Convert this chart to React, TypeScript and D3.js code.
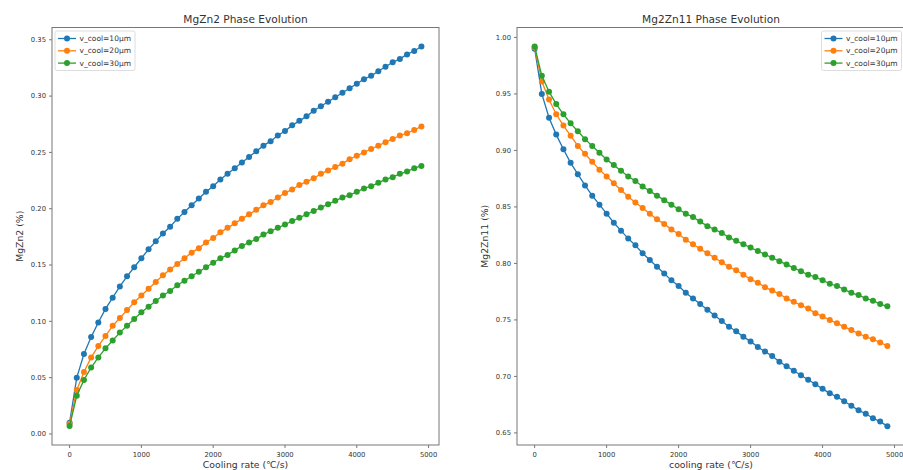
import * as d3 from "d3";

// cooling rate (°C/s), shared by every series
const coolingRates = d3.range(0, 5000, 100);

// MgZn2 fraction
const mgzn2_10 = [0.010, 0.050, 0.071, 0.086, 0.099, 0.111, 0.121, 0.131, 0.140, 0.148, 0.156, 0.164, 0.171, 0.178, 0.184, 0.191, 0.197, 0.203, 0.209, 0.215, 0.220, 0.226, 0.231, 0.236, 0.241, 0.246, 0.251, 0.256, 0.260, 0.265, 0.269, 0.274, 0.278, 0.282, 0.287, 0.291, 0.295, 0.299, 0.303, 0.307, 0.311, 0.315, 0.318, 0.322, 0.326, 0.330, 0.333, 0.337, 0.340, 0.344];
const mgzn2_20 = [0.009, 0.039, 0.055, 0.068, 0.078, 0.087, 0.096, 0.103, 0.110, 0.117, 0.123, 0.129, 0.135, 0.141, 0.146, 0.151, 0.156, 0.161, 0.165, 0.170, 0.174, 0.179, 0.183, 0.187, 0.191, 0.195, 0.199, 0.203, 0.206, 0.210, 0.214, 0.217, 0.221, 0.224, 0.227, 0.231, 0.234, 0.237, 0.240, 0.244, 0.247, 0.250, 0.253, 0.256, 0.259, 0.262, 0.265, 0.267, 0.270, 0.273];
const mgzn2_30 = [0.007, 0.034, 0.048, 0.059, 0.068, 0.076, 0.083, 0.090, 0.096, 0.102, 0.108, 0.113, 0.118, 0.123, 0.127, 0.132, 0.136, 0.140, 0.144, 0.148, 0.152, 0.156, 0.159, 0.163, 0.167, 0.170, 0.173, 0.177, 0.180, 0.183, 0.186, 0.189, 0.192, 0.195, 0.198, 0.201, 0.204, 0.207, 0.210, 0.212, 0.215, 0.218, 0.220, 0.223, 0.226, 0.228, 0.231, 0.233, 0.236, 0.238];

// Mg2Zn11 fraction
const mg2zn11_10 = [0.990, 0.950, 0.929, 0.914, 0.901, 0.889, 0.879, 0.869, 0.860, 0.852, 0.844, 0.836, 0.829, 0.822, 0.816, 0.809, 0.803, 0.797, 0.791, 0.785, 0.780, 0.774, 0.769, 0.764, 0.759, 0.754, 0.749, 0.744, 0.740, 0.735, 0.731, 0.726, 0.722, 0.718, 0.713, 0.709, 0.705, 0.701, 0.697, 0.693, 0.689, 0.685, 0.682, 0.678, 0.674, 0.670, 0.667, 0.663, 0.660, 0.656];
const mg2zn11_20 = [0.991, 0.961, 0.945, 0.932, 0.922, 0.913, 0.904, 0.897, 0.890, 0.883, 0.877, 0.871, 0.865, 0.859, 0.854, 0.849, 0.844, 0.839, 0.835, 0.830, 0.826, 0.821, 0.817, 0.813, 0.809, 0.805, 0.801, 0.797, 0.794, 0.790, 0.786, 0.783, 0.779, 0.776, 0.773, 0.769, 0.766, 0.763, 0.760, 0.756, 0.753, 0.750, 0.747, 0.744, 0.741, 0.738, 0.735, 0.733, 0.730, 0.727];
const mg2zn11_30 = [0.992, 0.966, 0.952, 0.941, 0.932, 0.924, 0.917, 0.910, 0.904, 0.898, 0.892, 0.887, 0.882, 0.877, 0.873, 0.868, 0.864, 0.860, 0.856, 0.852, 0.848, 0.844, 0.841, 0.837, 0.833, 0.830, 0.827, 0.823, 0.820, 0.817, 0.814, 0.811, 0.808, 0.805, 0.802, 0.799, 0.796, 0.793, 0.790, 0.788, 0.785, 0.782, 0.780, 0.777, 0.774, 0.772, 0.769, 0.767, 0.764, 0.762];

const seriesNames = ["v_cool=10μm", "v_cool=20μm", "v_cool=30μm"];
const colors = ["#1f77b4", "#ff7f0e", "#2ca02c"];

const xTicks = [0, 1000, 2000, 3000, 4000, 5000];
const yTicksLeft = [0, 0.05, 0.1, 0.15, 0.2, 0.25, 0.3, 0.35];
const yTicksRight = [0.65, 0.7, 0.75, 0.8, 0.85, 0.9, 0.95, 1.0];

const FONT = "DejaVu Sans, sans-serif";
const TEXT = "#333";
const SPINE = "#777";

type PanelProps = {
  left: number;
  right: number;
  top: number;
  bottom: number;
  yDomain: [number, number];
  yTicks: number[];
  series: number[][];
  title: string;
  xLabel: string;
  yLabel: string;
  yLabelX: number;
  legendX: number;
};

function Panel(p: PanelProps) {
  const x = d3.scaleLinear().domain([-245, 5145]).range([p.left, p.right]);
  const y = d3.scaleLinear().domain(p.yDomain).range([p.bottom, p.top]);
  const line = d3
    .line<number>()
    .x((_, i) => x(coolingRates[i]))
    .y((v) => y(v));
  const fmt = d3.format(".2f");
  const cx = (p.left + p.right) / 2;
  const cy = (p.top + p.bottom) / 2;

  return (
    <g>
      {/* series */}
      {p.series.map((s, si) => (
        <g key={si}>
          <path d={line(s) ?? ""} fill="none" stroke={colors[si]} strokeWidth={1.3} />
          {s.map((v, i) => (
            <circle key={i} cx={x(coolingRates[i])} cy={y(v)} r={3} fill={colors[si]} />
          ))}
        </g>
      ))}
      {/* spines */}
      <rect
        x={p.left}
        y={p.top}
        width={p.right - p.left}
        height={p.bottom - p.top}
        fill="none"
        stroke={SPINE}
        strokeWidth={1}
      />
      {/* x axis */}
      {xTicks.map((t) => (
        <g key={t} transform={`translate(${x(t)},${p.bottom})`}>
          <line y2={3} stroke={SPINE} />
          <text y={12} textAnchor="middle" fontSize={6.8} fill={TEXT} fontFamily={FONT}>
            {t}
          </text>
        </g>
      ))}
      {/* y axis */}
      {p.yTicks.map((t) => (
        <g key={t} transform={`translate(${p.left},${y(t)})`}>
          <line x2={-3} stroke={SPINE} />
          <text x={-6} dy="0.35em" textAnchor="end" fontSize={6.8} fill={TEXT} fontFamily={FONT}>
            {fmt(t)}
          </text>
        </g>
      ))}
      <text x={cx} y={22.5} textAnchor="middle" fontSize={10.6} fill={TEXT} fontFamily={FONT}>
        {p.title}
      </text>
      <text x={cx} y={468} textAnchor="middle" fontSize={9.3} fill={TEXT} fontFamily={FONT}>
        {p.xLabel}
      </text>
      <text
        transform={`translate(${p.yLabelX},${cy}) rotate(-90)`}
        textAnchor="middle"
        fontSize={9.3}
        fill={TEXT}
        fontFamily={FONT}
      >
        {p.yLabel}
      </text>
      {/* legend */}
      <g transform={`translate(${p.legendX},31)`}>
        <rect width={80} height={39.5} rx={2} fill="white" fillOpacity={0.8} stroke="#ddd" />
        {seriesNames.map((name, i) => (
          <g key={name} transform={`translate(0,${7.5 + i * 12.3})`}>
            <line x1={3} x2={21} stroke={colors[i]} strokeWidth={1.3} />
            <circle cx={12} r={3} fill={colors[i]} />
            <text x={24.5} dy="0.35em" fontSize={7.5} fill={TEXT} fontFamily={FONT}>
              {name}
            </text>
          </g>
        ))}
      </g>
    </g>
  );
}

export default function App() {
  return (
    <svg
      width={903}
      height={470}
      style={{ position: "absolute", left: 0, top: 0, background: "white" }}
    >
      <Panel
        left={52}
        right={439}
        top={27.5}
        bottom={445}
        yDomain={[-0.0098, 0.3609]}
        yTicks={yTicksLeft}
        series={[mgzn2_10, mgzn2_20, mgzn2_30]}
        title="MgZn2 Phase Evolution"
        xLabel="Cooling rate (℃/s)"
        yLabel="MgZn2 (%)"
        yLabelX={23}
        legendX={55}
      />
      <Panel
        left={517}
        right={905}
        top={27.5}
        bottom={445}
        yDomain={[0.6393, 1.0088]}
        yTicks={yTicksRight}
        series={[mg2zn11_10, mg2zn11_20, mg2zn11_30]}
        title="Mg2Zn11 Phase Evolution"
        xLabel="cooling rate (℃/s)"
        yLabel="Mg2Zn11 (%)"
        yLabelX={488}
        legendX={821.5}
      />
    </svg>
  );
}
